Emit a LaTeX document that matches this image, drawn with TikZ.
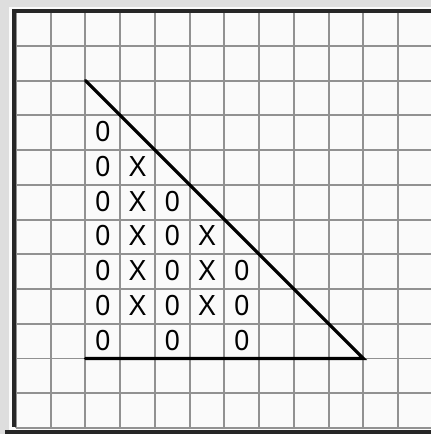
\documentclass[tikz,border=0pt]{standalone}
\usepackage{fontspec}
\setmainfont{Liberation Sans}
\definecolor{gridGray}{RGB}{145,145,145}
\definecolor{paneGray}{RGB}{222,222,222}
\definecolor{paneWhite}{RGB}{250,250,250}
\usetikzlibrary{positioning}

\begin{document}
\begin{tikzpicture}[
    gridline/.style={draw=gridGray, line width=1.6pt},
    frameline/.style={draw=black!85, line width=3.2pt},
    edge/.style={draw=black, line width=2.6pt, line cap=round},
    cellsym/.style={inner sep=0pt, yscale=1.08, transform shape,
                    font=\fontsize{22}{22}\selectfont}
  ]
  % window pane and bounding box
  \fill[paneGray] (-0.46,-0.173) rectangle (11.94,12.32);
  \fill[paneWhite] (-0.20,-0.173) rectangle (11.94,12.12);
  \useasboundingbox (-0.46,-0.173) rectangle (11.94,12.32);

  % squared paper
  \draw[gridline] (0,0) grid (11.94,12);

  % frame
  \draw[frameline] (-0.058,0.03) -- (-0.058,12.01);
  \draw[frameline] (-0.11,12.01) -- (11.94,12.01);
  \draw[frameline] (-0.32,-0.115) -- (11.94,-0.115);

  % triangle
  \coordinate (apex) at (2,10);
  \coordinate (base) at (2,2);
  \coordinate (tip)  at (10,2);
  \draw[edge] (apex) -- (tip) -- (base);

  % marks in the cells
  \node[cellsym] (r1c1) at (2.5,8.53) {0};
  \node[cellsym] (r2c1) at (2.5,7.53) {0};
  \node[cellsym] (r2c2) at (3.5,7.53) {X};
  \node[cellsym] (r3c1) at (2.5,6.53) {0};
  \node[cellsym] (r3c2) at (3.5,6.53) {X};
  \node[cellsym] (r3c3) at (4.5,6.53) {0};
  \node[cellsym] (r4c1) at (2.5,5.53) {0};
  \node[cellsym] (r4c2) at (3.5,5.53) {X};
  \node[cellsym] (r4c3) at (4.5,5.53) {0};
  \node[cellsym] (r4c4) at (5.5,5.53) {X};
  \node[cellsym] (r5c1) at (2.5,4.53) {0};
  \node[cellsym] (r5c2) at (3.5,4.53) {X};
  \node[cellsym] (r5c3) at (4.5,4.53) {0};
  \node[cellsym] (r5c4) at (5.5,4.53) {X};
  \node[cellsym] (r5c5) at (6.5,4.53) {0};
  \node[cellsym] (r6c1) at (2.5,3.53) {0};
  \node[cellsym] (r6c2) at (3.5,3.53) {X};
  \node[cellsym] (r6c3) at (4.5,3.53) {0};
  \node[cellsym] (r6c4) at (5.5,3.53) {X};
  \node[cellsym] (r6c5) at (6.5,3.53) {0};
  \node[cellsym] (r7c1) at (2.5,2.53) {0};
  \node[cellsym] (r7c3) at (4.5,2.53) {0};
  \node[cellsym] (r7c5) at (6.5,2.53) {0};
\end{tikzpicture}
\end{document}
